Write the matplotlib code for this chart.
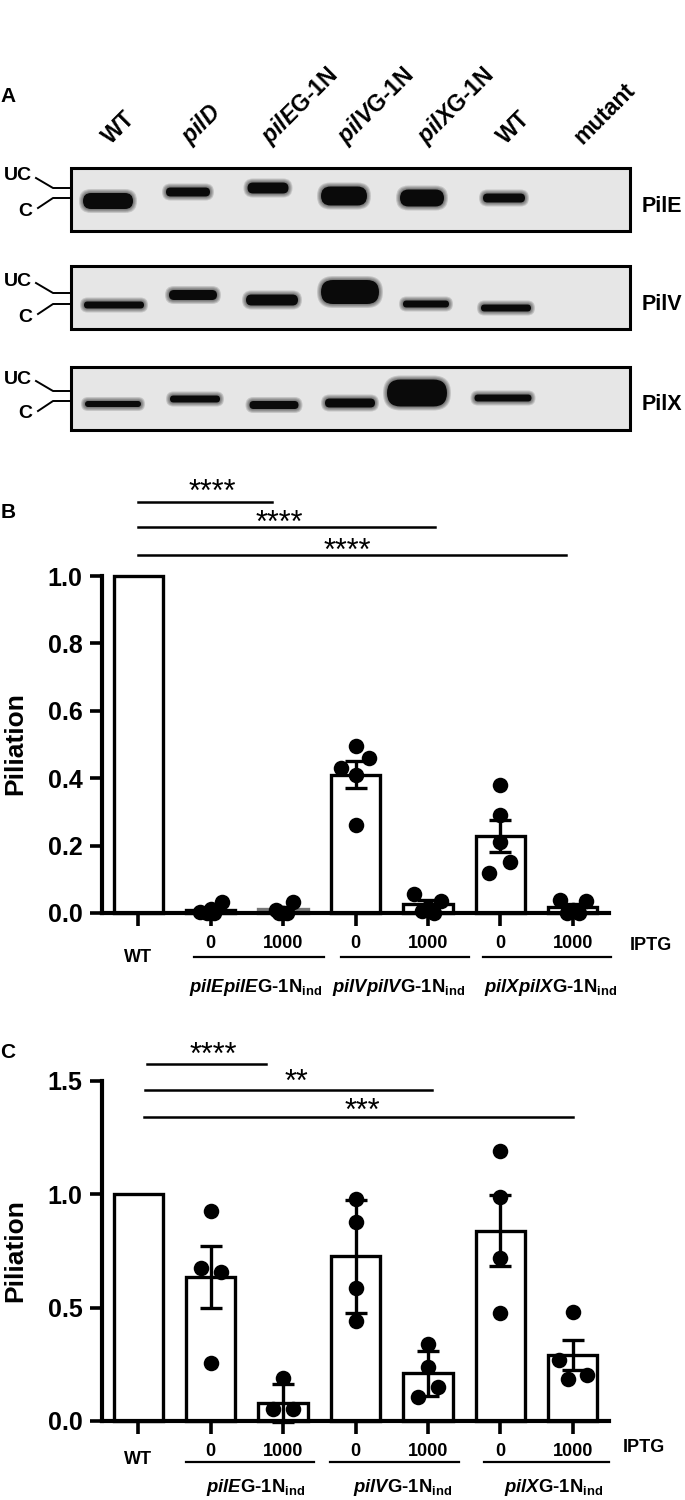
import matplotlib
matplotlib.use('Agg')
import matplotlib.pyplot as plt
import matplotlib.transforms as mtransforms
from matplotlib.patches import Rectangle, FancyBboxPatch
import numpy as np

plt.rcParams['font.family'] = ['Liberation Sans', 'DejaVu Sans']
plt.rcParams['font.weight'] = 'bold'
plt.rcParams['mathtext.fontset'] = 'custom'
plt.rcParams['mathtext.rm'] = 'Liberation Sans:bold'
plt.rcParams['mathtext.it'] = 'Liberation Sans:bold:italic'
plt.rcParams['mathtext.bf'] = 'Liberation Sans:bold'

# ---------------- data ----------------
# panel A: western blots
lane_labels = ['WT', r'$\mathit{pilD}$', r'$\mathit{pilE}$G-1N', r'$\mathit{pilV}$G-1N',
               r'$\mathit{pilX}$G-1N', 'WT', 'mutant']
blot_names = ['PilE', 'PilV', 'PilX']
# band geometry per blot (x centre, y centre, width, height) in pixels, one per loaded lane
pile_bands = [(108, 201, 50, 16), (188, 192, 44, 9), (268, 188, 41, 11),
              (344, 196, 46, 19), (422, 198, 44, 17), (504, 198, 42, 9)]
pilv_bands = [(114, 305, 60, 7), (193, 295, 48, 10), (272, 300, 52, 11),
              (350, 292, 58, 24), (426, 304, 46, 7), (506, 308, 50, 7)]
pilx_bands = [(113, 404, 56, 6), (195, 399, 50, 7), (274, 405, 49, 8),
              (350, 403, 50, 9), (417, 393, 60, 27), (503, 398, 57, 7)]

# panels B and C
conditions = ['WT', '0', '1000', '0', '1000', '0', '1000']
b_groups = [r'$\mathit{pilEpilE}$G-1N$_{\mathrm{ind}}$', r'$\mathit{pilVpilV}$G-1N$_{\mathrm{ind}}$',
            r'$\mathit{pilXpilX}$G-1N$_{\mathrm{ind}}$']
c_groups = [r'$\mathit{pilE}$G-1N$_{\mathrm{ind}}$', r'$\mathit{pilV}$G-1N$_{\mathrm{ind}}$',
            r'$\mathit{pilX}$G-1N$_{\mathrm{ind}}$']

b_mean = [1.0, 0.008, 0.012, 0.41, 0.027, 0.228, 0.018]
b_sem = [0.0, 0.006, 0.006, 0.04, 0.012, 0.048, 0.009]
b_points = [[],
            [0.033, 0.012, 0.003, 0.0, 0.0],
            [0.033, 0.010, 0.0, 0.0, 0.0],
            [0.495, 0.46, 0.43, 0.41, 0.26],
            [0.056, 0.035, 0.015, 0.005, 0.0],
            [0.38, 0.29, 0.21, 0.15, 0.12],
            [0.04, 0.035, 0.01, 0.0, 0.0]]
b_jitter = [[], [0.15, 0.0, -0.15, 0.05, -0.05], [0.14, -0.1, 0.0, 0.05, -0.05],
            [0.0, 0.18, -0.2, 0.0, 0.0], [-0.19, 0.18, 0.0, -0.08, 0.08],
            [0.0, 0.0, 0.0, 0.14, -0.15], [-0.18, 0.18, 0.0, -0.08, 0.08]]
b_sig = ['****', '****', '****']
b_sig_start = [0.0, 0.0, 0.0]
b_sig_end = [1.85, 4.1, 5.9]
b_sig_y = [1.22, 1.145, 1.062]
b_star_x = [1.02, 1.95, 2.89]

c_mean = [1.0, 0.634, 0.08, 0.727, 0.21, 0.84, 0.29]
c_sem = [0.0, 0.136, 0.083, 0.25, 0.1, 0.157, 0.067]
c_points = [[],
            [0.925, 0.674, 0.657, 0.256],
            [0.19, 0.055, 0.055],
            [0.98, 0.88, 0.585, 0.44],
            [0.34, 0.24, 0.15, 0.105],
            [1.19, 0.99, 0.72, 0.475],
            [0.48, 0.27, 0.185, 0.205]]
c_jitter = [[], [0.0, -0.14, 0.14, 0.0], [0.0, -0.14, 0.14], [0, 0, 0, 0],
            [0.0, 0.0, 0.14, -0.14], [0, 0, 0, 0], [0.0, -0.19, -0.06, 0.2]]
c_sig = ['****', '**', '***']
c_sig_start = [0.12, 0.1, 0.08]
c_sig_end = [1.76, 4.05, 6.0]
c_sig_y = [1.577, 1.46, 1.343]
c_star_x = [1.03, 2.18, 3.09]

# ---------------- figure ----------------
W, H = 685, 1500
fig = plt.figure(figsize=(W / 100, H / 100), dpi=100)
ov = fig.add_axes([0, 0, 1, 1])
ov.set_xlim(0, W)
ov.set_ylim(H, 0)
ov.axis('off')

# ---- panel A ----
ov.text(8, 97, 'A', fontsize=15, ha='center', va='center')
lane_x = [111, 190, 270, 346, 426, 506, 583]
for lx, lab in zip(lane_x, lane_labels):
    ov.text(lx, 145, lab, fontsize=16.5, rotation=45, rotation_mode='anchor',
            ha='left', va='baseline')

box_tops = [168, 266, 367]
box_h = 63
uc_off = [20, 27, 24]
c_off = [30, 38, 34]


def band(x0, y0, w, h, grow, **kw):
    # rounded (stadium-like) blot band
    w2, h2 = w + 2 * grow, h + 2 * grow
    r = min(h2 / 2.0, w2 / 2.0)
    ov.add_patch(FancyBboxPatch((x0 - w2 / 2, y0 - h2 / 2), w2, h2,
                                boxstyle='round,pad=0,rounding_size=%f' % r,
                                lw=0, **kw))


for top, name, bands, uo, co in zip(box_tops, blot_names, [pile_bands, pilv_bands, pilx_bands], uc_off, c_off):
    ov.add_patch(Rectangle((71, top), 559, box_h, facecolor='#e6e6e6', edgecolor='black', lw=2.2, zorder=1))
    for bx, by, bw, bh in bands:
        for g in [4, 3, 2, 1]:
            band(bx, by, bw, bh, g * 1.0, color='black', alpha=0.14, zorder=2)
        band(bx, by, bw, bh, 0, color='#0a0a0a', zorder=3)
    ov.text(642, top + 38, name, fontsize=15.5, ha='left', va='center')
    uy, cy = top + uo, top + co
    ov.plot([36, 53, 71], [uy - 10, uy, uy], color='black', lw=1.4)
    ov.plot([38, 53, 71], [cy + 10, cy, cy], color='black', lw=1.4)
    ov.text(18, uy - 12, 'UC', fontsize=14, ha='center', va='center')
    ov.text(25, cy + 13, 'C', fontsize=14, ha='center', va='center')


def bar_panel(ax, means, sems, points, jitter, ymax, yticks, sig, sig_start, sig_end, sig_y,
              star_x, star_py, groups, letter, letter_y, ylab_y, lab_y, wt_y, iptg_x, iptg_y,
              line_y, line_spans, grp_y, grp_x, grey_bar=None):
    x = np.arange(len(means))
    edge = ['black'] * len(means)
    if grey_bar is not None:
        edge[grey_bar] = '#777777'
    ax.bar(x, means, width=0.68, color='white', edgecolor=edge, linewidth=2.4, zorder=2,
           clip_on=False)
    for xi, pts, jit in zip(x, points, jitter):
        if pts:
            ax.scatter(xi + np.array(jit), pts, s=125, color='black', zorder=3, clip_on=False,
                       linewidths=0)
    ax.errorbar(x[1:], means[1:], yerr=sems[1:], fmt='none', ecolor='black', elinewidth=2.4,
                capsize=8, capthick=2.4, zorder=4, clip_on=False)
    ax.set_xlim(-0.5, 6.5)
    ax.set_ylim(0, ymax)
    ax.set_yticks(yticks)
    ax.set_yticklabels(['%.1f' % t for t in yticks])
    ax.set_xticks(x)
    ax.tick_params(axis='x', length=9, width=2.6, labelbottom=False)
    ax.tick_params(axis='y', length=9, width=2.6, labelsize=18, pad=5)
    for s in ['top', 'right']:
        ax.spines[s].set_visible(False)
    for s in ['left', 'bottom']:
        ax.spines[s].set_linewidth(3)
    ax.set_facecolor('none')
    tr = mtransforms.blended_transform_factory(ax.transData, ov.transData)
    for lab, a, b, yy, sx, sy in zip(sig, sig_start, sig_end, sig_y, star_x, star_py):
        ax.plot([a, b], [yy, yy], color='black', lw=1.8, clip_on=False)
        ax.text(sx, sy + 13, lab, transform=tr, fontsize=22, fontweight='normal',
                ha='center', va='baseline')
    ax.text(0, wt_y, conditions[0], transform=tr, fontsize=13, ha='center', va='center')
    for xi, lab in zip(x[1:], conditions[1:]):
        ax.text(xi, lab_y, lab, transform=tr, fontsize=13, ha='center', va='center')
    ov.text(iptg_x, iptg_y, 'IPTG', fontsize=13, ha='center', va='center')
    for (a, b), gx, g in zip(line_spans, grp_x, groups):
        ax.plot([a, b], [line_y, line_y], transform=tr, color='black', lw=1.6, clip_on=False)
        ax.text(gx, grp_y, g, transform=tr, fontsize=13.3, ha='center', va='center')
    ov.text(8, letter_y, letter, fontsize=15, ha='center', va='center')
    ov.text(15, ylab_y, 'Piliation', fontsize=19, rotation=90, ha='center', va='center')


axB = fig.add_axes([102 / W, 1 - 913 / H, (609 - 102) / W, (913 - 576) / H])
bar_panel(axB, b_mean, b_sem, b_points, b_jitter, 1.0, [0.0, 0.2, 0.4, 0.6, 0.8, 1.0],
          b_sig, b_sig_start, b_sig_end, b_sig_y, b_star_x, [488, 519, 547],
          b_groups, 'B', 513, 744, 944, 957, 651, 945, 957,
          [(0.77, 2.56), (2.8, 4.57), (4.76, 6.53)], 988, [1.62, 3.6, 5.7], grey_bar=2)

axC = fig.add_axes([102 / W, 1 - 1421 / H, (609 - 102) / W, (1421 - 1081) / H])
bar_panel(axC, c_mean, c_sem, c_points, c_jitter, 1.5, [0.0, 0.5, 1.0, 1.5],
          c_sig, c_sig_start, c_sig_end, c_sig_y, c_star_x, [1051, 1078, 1107],
          c_groups, 'C', 1052, 1251, 1452, 1460, 644, 1448, 1462,
          [(0.66, 2.43), (2.65, 4.43), (4.77, 6.5)], 1487, [1.62, 3.65, 5.74])

fig.savefig('out.png', dpi=100)
